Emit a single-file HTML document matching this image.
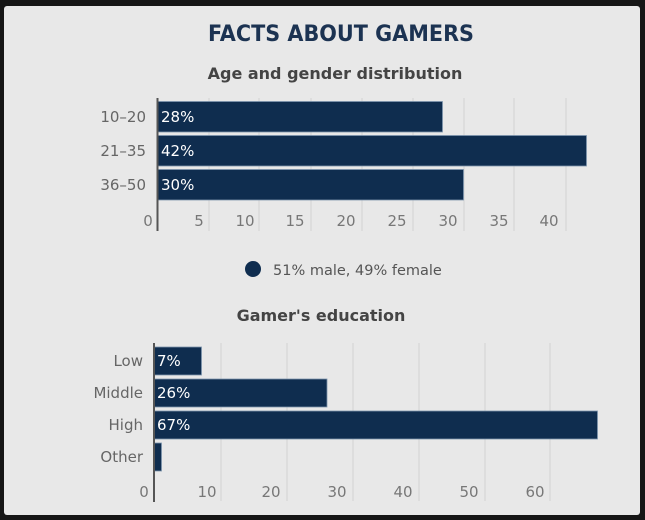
<!DOCTYPE html>
<html><head><meta charset="utf-8"><style>
html,body{margin:0;padding:0;background:#161616;width:645px;height:520px;overflow:hidden}
svg{display:block}
text{font-family:"DejaVu Sans","Liberation Sans",sans-serif}
</style></head><body>
<svg width="645" height="520" viewBox="0 0 645 520" xmlns="http://www.w3.org/2000/svg">
<rect x="0" y="0" width="645" height="520" fill="#161616"/>
<rect x="4" y="6" width="636" height="509" rx="3" fill="#e8e8e8"/>
<text x="341" y="41" text-anchor="middle" font-size="22" font-weight="bold" fill="#1c3352" textLength="266" lengthAdjust="spacingAndGlyphs">FACTS ABOUT GAMERS</text>
<text x="335" y="79" text-anchor="middle" font-size="16" font-weight="bold" fill="#444">Age and gender distribution</text>
<g stroke="#d2d2d2" stroke-width="1">
<line x1="209" y1="98" x2="209" y2="231"/><line x1="259" y1="98" x2="259" y2="231"/><line x1="311" y1="98" x2="311" y2="231"/><line x1="362" y1="98" x2="362" y2="231"/><line x1="413" y1="98" x2="413" y2="231"/><line x1="464" y1="98" x2="464" y2="231"/><line x1="514" y1="98" x2="514" y2="231"/><line x1="566" y1="98" x2="566" y2="231"/>
</g>
<g fill="#0f2d4f" stroke="#7d95ad" stroke-width="0.8">
<rect x="157.5" y="101.5" width="285" height="30.5"/>
<rect x="157.5" y="135.5" width="429" height="30.5"/>
<rect x="157.5" y="169.5" width="306" height="30.5"/>
</g>
<line x1="157.5" y1="98" x2="157.5" y2="231" stroke="#555" stroke-width="2"/>
<g font-size="15" fill="#fff"><text x="161" y="122">28%</text><text x="161" y="156">42%</text><text x="161" y="190">30%</text></g>
<g font-size="15" fill="#666" text-anchor="end"><text x="146" y="122">10–20</text><text x="146" y="156">21–35</text><text x="146" y="190">36–50</text></g>
<g font-size="15" fill="#777" text-anchor="middle"><text x="148" y="226">0</text><text x="199" y="226">5</text><text x="245" y="226">10</text><text x="295" y="226">15</text><text x="346" y="226">20</text><text x="397" y="226">25</text><text x="448" y="226">30</text><text x="499" y="226">35</text><text x="549" y="226">40</text></g>
<circle cx="253" cy="269" r="8" fill="#0f2d4f"/>
<text x="273" y="275" font-size="14.5" fill="#555">51% male, 49% female</text>
<text x="321" y="321" text-anchor="middle" font-size="16" font-weight="bold" fill="#444">Gamer's education</text>
<g stroke="#d2d2d2" stroke-width="1">
<line x1="221" y1="343" x2="221" y2="501"/><line x1="287" y1="343" x2="287" y2="501"/><line x1="353" y1="343" x2="353" y2="501"/><line x1="419" y1="343" x2="419" y2="501"/><line x1="485" y1="343" x2="485" y2="501"/><line x1="550" y1="343" x2="550" y2="501"/>
</g>
<g fill="#0f2d4f" stroke="#7d95ad" stroke-width="0.8">
<rect x="154" y="347" width="47.5" height="28"/>
<rect x="154" y="379" width="173" height="28"/>
<rect x="154" y="411" width="443.5" height="28"/>
<rect x="154" y="443" width="7.5" height="28"/>
</g>
<line x1="154" y1="343" x2="154" y2="502" stroke="#555" stroke-width="2"/>
<g font-size="15" fill="#fff"><text x="157" y="366">7%</text><text x="157" y="398">26%</text><text x="157" y="430">67%</text></g>
<g font-size="15" fill="#666" text-anchor="end"><text x="143" y="366">Low</text><text x="143" y="398">Middle</text><text x="143" y="430">High</text><text x="143" y="462">Other</text></g>
<g font-size="15" fill="#777" text-anchor="middle"><text x="144" y="497">0</text><text x="207" y="497">10</text><text x="271" y="497">20</text><text x="337" y="497">30</text><text x="403" y="497">40</text><text x="469" y="497">50</text><text x="535" y="497">60</text></g>
</svg>
</body></html>
